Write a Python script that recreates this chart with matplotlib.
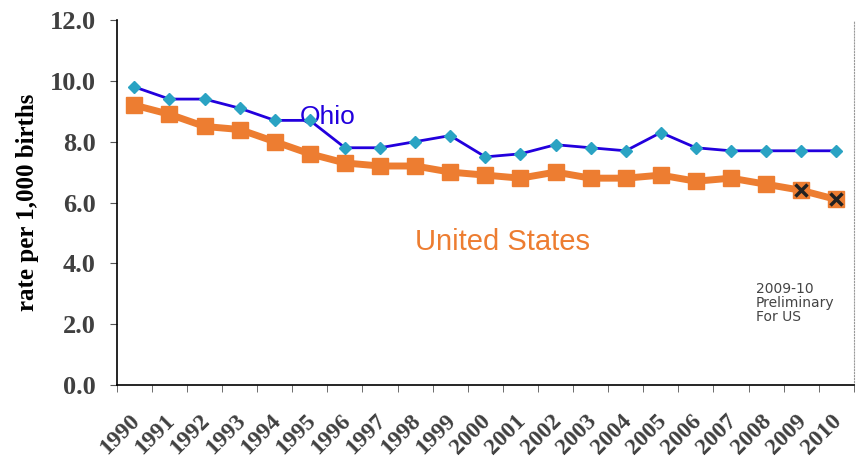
import matplotlib
matplotlib.use('Agg')
import matplotlib.pyplot as plt
import matplotlib.transforms as mtransforms
import numpy as np

years = [str(y) for y in range(1990, 2011)]
ohio = [9.8, 9.4, 9.4, 9.1, 8.7, 8.7, 7.8, 7.8, 8.0, 8.2, 7.5,
        7.6, 7.9, 7.8, 7.7, 8.3, 7.8, 7.7, 7.7, 7.7, 7.7]
us = [9.2, 8.9, 8.5, 8.4, 8.0, 7.6, 7.3, 7.2, 7.2, 7.0, 6.9,
      6.8, 7.0, 6.8, 6.8, 6.9, 6.7, 6.8, 6.6, 6.4, 6.1]
prelim_years = ['2009', '2010']

fig = plt.figure(figsize=(8.59, 4.65), dpi=100)
ax = fig.add_axes([0.136, 0.172, 0.858, 0.785])

x = np.arange(len(years))
ax.plot(x, us, color='#ed7d31', lw=5, marker='s', ms=11, zorder=2)
pi = [years.index(y) for y in prelim_years]
ax.plot(pi, [us[i] for i in pi], ls='none', marker='x', ms=8, mew=2.5,
        color='#222222', zorder=3)
ax.plot(x, ohio, color='#2200dd', lw=2, marker='D', ms=6,
        mfc='#2aa3c3', mec='#2aa3c3', zorder=4)

ax.set_xlim(-0.5, len(years) - 0.5)
ax.set_ylim(0, 12)
ax.set_yticks(np.arange(0, 12.1, 2))
ax.set_yticklabels([f'{v:.1f}' for v in np.arange(0, 12.1, 2)])
ax.set_xticks(x)
ax.set_xticklabels(years)
ax.set_xticks(np.arange(-0.5, len(years), 1), minor=True)
ax.tick_params(axis='x', which='major', length=0, pad=18)
ax.tick_params(axis='x', which='minor', length=5, color='#555555')
ax.tick_params(axis='y', length=5, color='#555555', pad=10)

shift = mtransforms.ScaledTranslation(-5 / 100, 0, fig.dpi_scale_trans)
for lab in ax.get_xticklabels():
    lab.set_rotation(45)
    lab.set_ha('right')
    lab.set_rotation_mode('anchor')
    lab.set_fontfamily('Liberation Serif')
    lab.set_fontweight('bold')
    lab.set_fontsize(17)
    lab.set_color('#404040')
    lab.set_transform(lab.get_transform() + shift)
for lab in ax.get_yticklabels():
    lab.set_fontfamily('Liberation Serif')
    lab.set_fontweight('bold')
    lab.set_fontsize(19)
    lab.set_color('#404040')

ax.set_ylabel('rate per 1,000 births', fontfamily='Liberation Serif',
              fontweight='bold', fontsize=18, labelpad=8)

ax.spines['top'].set_visible(False)
ax.spines['right'].set_color('#999999')
ax.spines['right'].set_linestyle(':')
ax.spines['left'].set_linewidth(1.2)
ax.spines['bottom'].set_linewidth(1.2)

ax.text(4.7, 8.8, 'Ohio', color='#2200dd', fontsize=19,
        fontfamily='Liberation Sans', va='center', ha='left')
ax.text(10.5, 4.7, 'United States', color='#ed7d31', fontsize=21,
        fontfamily='Liberation Sans', va='center', ha='center')
ax.text(17.7, 3.4, '2009-10\nPreliminary\nFor US', color='#444444',
        fontsize=10, fontfamily='DejaVu Sans', va='top', ha='left',
        linespacing=1.0)

fig.savefig('out.png', dpi=100)
